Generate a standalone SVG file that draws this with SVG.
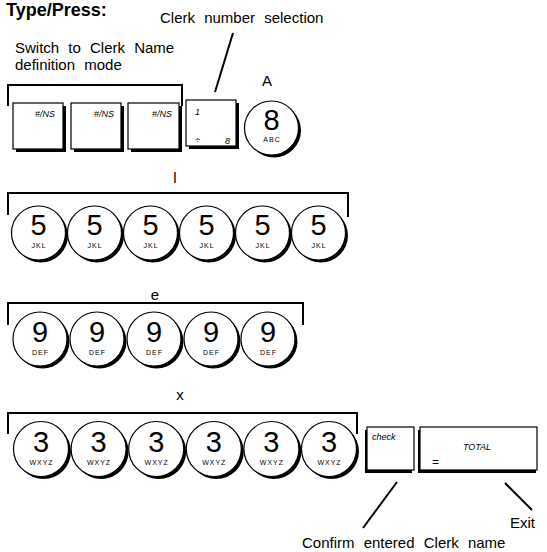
<svg xmlns="http://www.w3.org/2000/svg" xmlns:xlink="http://www.w3.org/1999/xlink" width="547" height="552" viewBox="0 0 547 552">
<style>
text{font-family:"Liberation Sans",Arial,sans-serif;fill:#000}
.lbl{font-size:15px;word-spacing:5px}
.ttl{font-size:18px;font-weight:bold}
.br{fill:none;stroke:#000;stroke-width:2}
.ptr{stroke:#000;stroke-width:2}
.kb{fill:#fff;stroke:#000;stroke-width:1.2}
.ks{fill:#000}
.dig{font-size:29px;text-anchor:middle}
.sub{font-size:7px;text-anchor:middle;letter-spacing:1px}
.kt{font-size:9px;font-style:italic}
</style>
<defs>
<g id="rk"><circle cx="2.5" cy="2.5" r="27" class="ks"/><circle cx="0" cy="0" r="27" class="kb"/></g>
<g id="rk4"><circle cx="2.5" cy="2.5" r="27.5" class="ks"/><circle cx="0" cy="0" r="27.5" class="kb"/></g>
</defs>

<text class="ttl" x="6" y="16">Type/Press:</text>

<g id="labels">
<text class="lbl" x="160" y="23">Clerk number selection</text>
<text class="lbl" x="15" y="53">Switch to Clerk Name</text>
<text class="lbl" x="15" y="70">definition mode</text>
<text class="lbl" x="267" y="86" text-anchor="middle">A</text>
<text class="lbl" x="175" y="183" text-anchor="middle">l</text>
<text class="lbl" x="155" y="300" text-anchor="middle">e</text>
<text class="lbl" x="180" y="400" text-anchor="middle">x</text>
<text class="lbl" x="510" y="528">Exit</text>
<text class="lbl" x="302" y="548">Confirm entered Clerk name</text>
</g>

<g id="connectors">
<path class="br" d="M8,106 V85 H182 V106"/>
<path class="br" d="M8,215 V193 H348 V217"/>
<path class="br" d="M8,325 V303 H303 V325"/>
<path class="br" d="M8,434 V413 H357 V434"/>
<line class="ptr" x1="233" y1="33" x2="215" y2="92"/>
<line class="ptr" x1="397" y1="482" x2="363" y2="528"/>
<line class="ptr" x1="505" y1="483" x2="532" y2="510"/>
</g>

<g id="key-ns1"><rect x="16" y="106" width="50" height="46" class="ks"/><rect x="13" y="103" width="50" height="46" class="kb"/><text class="kt" x="55" y="117" text-anchor="end">#/NS</text></g>
<g id="key-ns2"><rect x="74" y="106" width="50" height="46" class="ks"/><rect x="71" y="103" width="50" height="46" class="kb"/><text class="kt" x="114" y="117" text-anchor="end">#/NS</text></g>
<g id="key-ns3"><rect x="131" y="106" width="51" height="46" class="ks"/><rect x="128" y="103" width="51" height="46" class="kb"/><text class="kt" x="172" y="117" text-anchor="end">#/NS</text></g>
<g id="key-clerk"><rect x="189" y="103" width="50" height="46" class="ks"/><rect x="186" y="100" width="50" height="46" class="kb"/><text class="kt" x="195" y="115" font-size="11">1</text><text class="kt" x="195" y="143" font-size="11">÷</text><text class="kt" x="225" y="144" font-size="12">8</text></g>
<g id="key-8"><use xlink:href="#rk" x="271.5" y="128"/><text class="dig" x="271.5" y="130">8</text><text class="sub" x="272" y="142">ABC</text></g>

<g id="row-l">
<g id="key-5a"><use xlink:href="#rk" x="38.5" y="233"/><text class="dig" x="38.5" y="235">5</text><text class="sub" x="39" y="248">JKL</text></g>
<g id="key-5b"><use xlink:href="#rk" x="94.5" y="233"/><text class="dig" x="94.5" y="235">5</text><text class="sub" x="95" y="248">JKL</text></g>
<g id="key-5c"><use xlink:href="#rk" x="150.5" y="233"/><text class="dig" x="150.5" y="235">5</text><text class="sub" x="151" y="248">JKL</text></g>
<g id="key-5d"><use xlink:href="#rk" x="206.5" y="233"/><text class="dig" x="206.5" y="235">5</text><text class="sub" x="207" y="248">JKL</text></g>
<g id="key-5e"><use xlink:href="#rk" x="262.5" y="233"/><text class="dig" x="262.5" y="235">5</text><text class="sub" x="263" y="248">JKL</text></g>
<g id="key-5f"><use xlink:href="#rk" x="318.5" y="233"/><text class="dig" x="318.5" y="235">5</text><text class="sub" x="319" y="248">JKL</text></g>
</g>

<g id="row-e">
<g id="key-9a"><use xlink:href="#rk" x="40" y="339"/><text class="dig" x="40" y="342">9</text><text class="sub" x="40.5" y="355">DEF</text></g>
<g id="key-9b"><use xlink:href="#rk" x="97" y="339"/><text class="dig" x="97" y="342">9</text><text class="sub" x="97.5" y="355">DEF</text></g>
<g id="key-9c"><use xlink:href="#rk" x="154" y="339"/><text class="dig" x="154" y="342">9</text><text class="sub" x="154.5" y="355">DEF</text></g>
<g id="key-9d"><use xlink:href="#rk" x="211" y="339"/><text class="dig" x="211" y="342">9</text><text class="sub" x="211.5" y="355">DEF</text></g>
<g id="key-9e"><use xlink:href="#rk" x="268" y="339"/><text class="dig" x="268" y="342">9</text><text class="sub" x="268.5" y="355">DEF</text></g>
</g>

<g id="row-x">
<g id="key-3a"><use xlink:href="#rk4" x="41" y="449"/><text class="dig" x="41" y="452">3</text><text class="sub" x="41.5" y="465">WXYZ</text></g>
<g id="key-3b"><use xlink:href="#rk4" x="98.6" y="449"/><text class="dig" x="98.6" y="452">3</text><text class="sub" x="99" y="465">WXYZ</text></g>
<g id="key-3c"><use xlink:href="#rk4" x="156.2" y="449"/><text class="dig" x="156.2" y="452">3</text><text class="sub" x="156.7" y="465">WXYZ</text></g>
<g id="key-3d"><use xlink:href="#rk4" x="213.8" y="449"/><text class="dig" x="213.8" y="452">3</text><text class="sub" x="214.3" y="465">WXYZ</text></g>
<g id="key-3e"><use xlink:href="#rk4" x="271.4" y="449"/><text class="dig" x="271.4" y="452">3</text><text class="sub" x="271.9" y="465">WXYZ</text></g>
<g id="key-3f"><use xlink:href="#rk4" x="329" y="449"/><text class="dig" x="329" y="452">3</text><text class="sub" x="329.5" y="465">WXYZ</text></g>
</g>

<g id="key-check"><rect x="365" y="430" width="47" height="43" class="ks"/><rect x="367" y="427" width="47" height="43" class="kb"/><text class="kt" x="372" y="440">check</text></g>
<g id="key-total"><rect x="418" y="430" width="118" height="43" class="ks"/><rect x="420" y="427" width="117" height="43" class="kb"/><text class="kt" x="477" y="450" font-size="11" text-anchor="middle">TOTAL</text><text x="432" y="466" font-size="12">=</text></g>
</svg>
